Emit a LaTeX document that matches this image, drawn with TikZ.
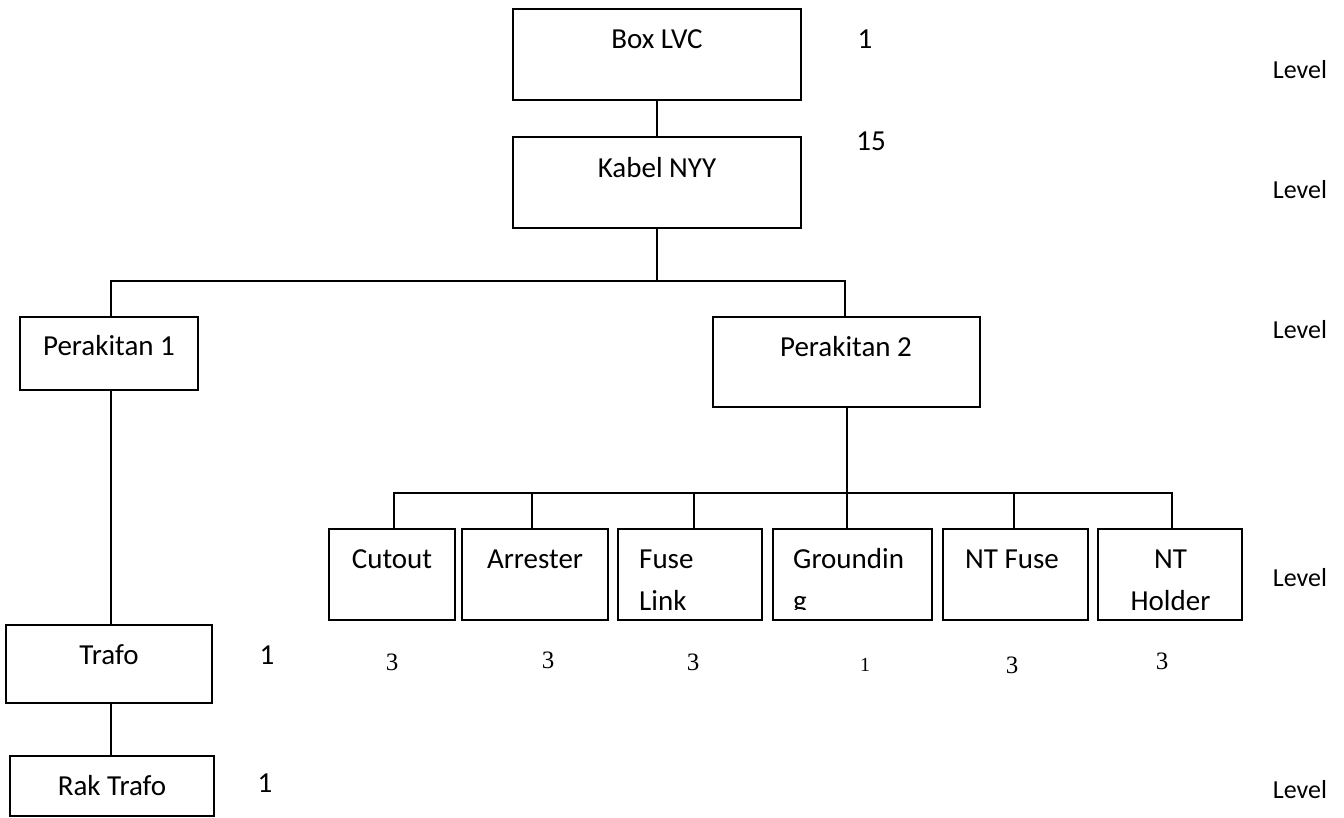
\documentclass[tikz,border=0pt]{standalone}
\usepackage{fontspec}
\setmainfont{Carlito}
\newfontfamily\numfont{Liberation Serif}
\begin{document}
\begin{tikzpicture}[x=1pt,y=-1pt,
  box/.style={draw, line width=1.6pt, rectangle, inner sep=0pt},
  lbl/.style={font=\fontsize{29}{35}\selectfont, anchor=base, inner sep=0pt},
  lblw/.style={lbl, anchor=base west},
  lvl/.style={font=\fontsize{26}{31}\selectfont, anchor=base, inner sep=0pt},
  qty/.style={font=\numfont\fontsize{25}{30}\selectfont, anchor=base, inner sep=0pt},
  conn/.style={line width=1.6pt}]
\useasboundingbox (0,0) rectangle (1344,817);

% boxes
\node[box, minimum width=288pt, minimum height=91pt] (lvc) at (657,54.5) {};
\node[box, minimum width=288pt, minimum height=91pt] (kab) at (657,182.5) {};
\node[box, minimum width=178pt, minimum height=73pt] (p1) at (109,353.5) {};
\node[box, minimum width=267pt, minimum height=90pt] (p2) at (846.5,362) {};
\node[box, minimum width=126pt, minimum height=91pt] (cut) at (392,574.5) {};
\node[box, minimum width=146pt, minimum height=91pt] (arr) at (535,574.5) {};
\node[box, minimum width=144pt, minimum height=91pt] (fus) at (690,574.5) {};
\node[box, minimum width=159pt, minimum height=91pt] (gro) at (852.5,574.5) {};
\node[box, minimum width=145pt, minimum height=91pt] (ntf) at (1015.5,574.5) {};
\node[box, minimum width=144pt, minimum height=91pt] (nth) at (1170,574.5) {};
\node[box, minimum width=206pt, minimum height=78pt] (tra) at (109,664) {};
\node[box, minimum width=204pt, minimum height=60pt] (rak) at (112,786) {};

% box texts
\node[lbl] (tlvc) at (657,48) {Box LVC};
\node[lbl] (tkab) at (657,177) {Kabel NYY};
\node[lbl] (tp1) at (109,355) {Perakitan 1};
\node[lbl] (tp2) at (846,356) {Perakitan 2};
\node[lbl] (tcut) at (392,568) {Cutout};
\node[lbl] (tarr) at (535,568) {Arrester};
\node[lblw] (tfus1) at (639,568) {Fuse};
\node[lblw] (tfus2) at (639,610) {Link};
\node[lblw] (tgro1) at (793,568) {Groundin};
\begin{scope}
  \clip (780,590) rectangle (830,609);
  \node[lblw] (tgro2) at (793,610) {g};
\end{scope}
\node[lbl] (tntf) at (1012,568) {NT Fuse};
\node[lbl] (tnth1) at (1170.5,568) {NT};
\node[lbl] (tnth2) at (1170.5,610) {Holder};
\node[lbl] (ttra) at (109,664) {Trafo};
\node[lbl] (trak) at (112,795) {Rak Trafo};

% quantities
\node[lbl] (q1) at (865,48) {1};
\node[lbl] (q2) at (871,150) {15};
\node[lbl] (q3) at (267,664) {1};
\node[lbl] (q4) at (265,792) {1};
\node[qty] (qc) at (392,670) {3};
\node[qty] (qa) at (548,668) {3};
\node[qty] (qf) at (693,670) {3};
\node[qty, font=\numfont\fontsize{20}{24}\selectfont] (qg) at (865,671) {1};
\node[qty] (qn) at (1012,673) {3};
\node[qty] (qh) at (1162,669) {3};

% levels
\node[lvl] (l1) at (1300,78) {Level};
\node[lvl] (l2) at (1300,198) {Level};
\node[lvl] (l3) at (1300,338) {Level};
\node[lvl] (l4) at (1300,586) {Level};
\node[lvl] (l5) at (1300,798) {Level};

% connectors
\coordinate (bus1) at (0,281);
\coordinate (bus2) at (0,493);
\draw[conn] (lvc.south) -- (kab.north);
\draw[conn] (kab.south) -- (kab.south |- bus1);
\draw[conn] ([xshift=2pt]p1.north) |- ([xshift=-1.5pt]p2.north |- bus1) -- ([xshift=-1.5pt]p2.north);
\draw[conn] ([xshift=0.5pt]p2.south) -- ([xshift=0.5pt]p2.south |- bus2);
\draw[conn] ([xshift=2pt]cut.north) |- ([xshift=2pt]nth.north |- bus2) -- ([xshift=2pt]nth.north);
\draw[conn] ([xshift=-3pt]arr.north) -- ([xshift=-3pt]arr.north |- bus2);
\draw[conn] ([xshift=4pt]fus.north) -- ([xshift=4pt]fus.north |- bus2);
\draw[conn] ([xshift=-5.5pt]gro.north) -- ([xshift=-5.5pt]gro.north |- bus2);
\draw[conn] ([xshift=-1.5pt]ntf.north) -- ([xshift=-1.5pt]ntf.north |- bus2);
\draw[conn] ([xshift=2pt]p1.south) -- ([xshift=2pt]tra.north);
\draw[conn] ([xshift=2pt]tra.south) -- ([xshift=-1pt]rak.north);
\end{tikzpicture}
\end{document}
